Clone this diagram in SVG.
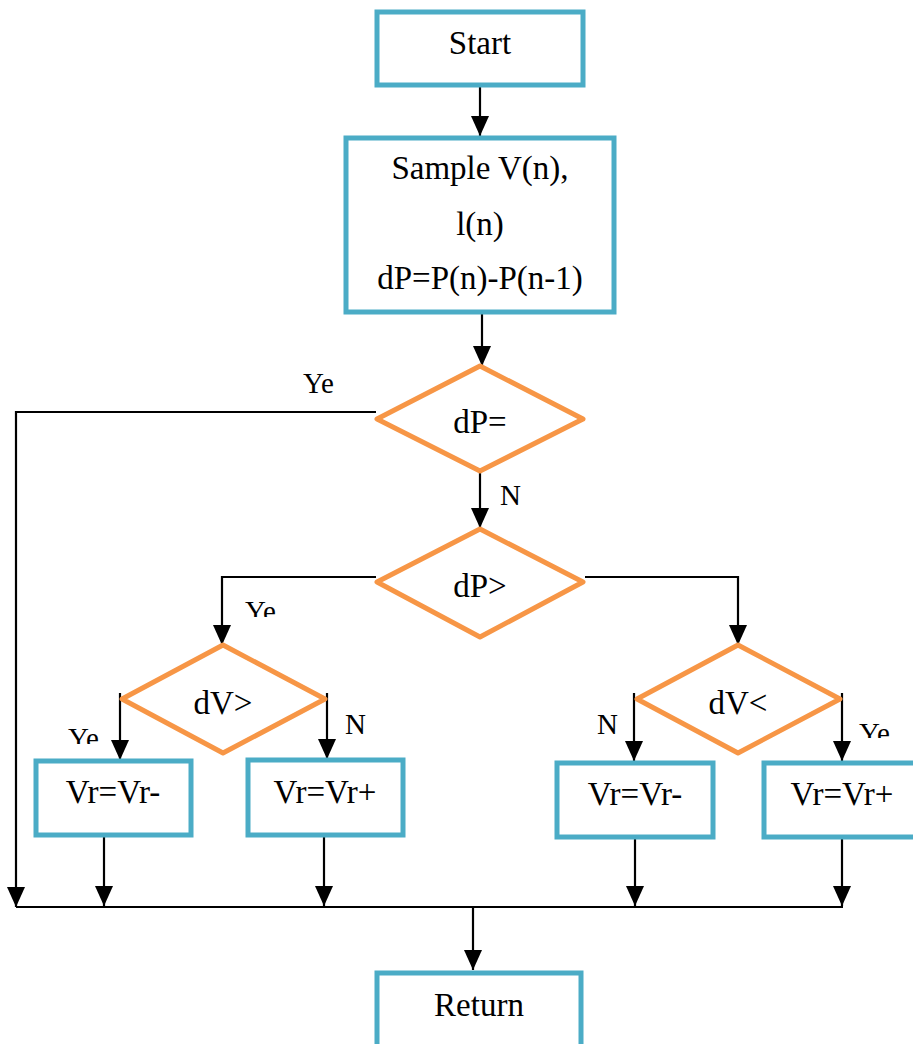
<svg xmlns="http://www.w3.org/2000/svg" width="913" height="1044" viewBox="0 0 913 1044">
<style>
.box{fill:#fff;stroke:#4BACC6;stroke-width:5}
.dia{fill:#fff;stroke:#F79646;stroke-width:5;stroke-linejoin:round}
.t{font-family:"Liberation Serif","Times New Roman",serif;font-size:33px;fill:#000;text-anchor:middle}
.l{font-family:"Liberation Serif","Times New Roman",serif;font-size:29px;fill:#000}
.c{fill:none;stroke:#000;stroke-width:2.2}
</style>
<defs>
<marker id="ad" markerUnits="userSpaceOnUse" markerWidth="22" markerHeight="18" refX="20" refY="9" orient="auto" viewBox="0 0 22 18">
<path d="M0,0 L20,9 L0,18 Z" fill="#000"/>
</marker>
<clipPath id="c1"><rect x="290" y="360" width="60" height="33"/></clipPath>
<clipPath id="c2"><rect x="235" y="590" width="60" height="27"/></clipPath>
<clipPath id="c3"><rect x="60" y="715" width="60" height="29"/></clipPath>
<clipPath id="c4"><rect x="850" y="710" width="60" height="28"/></clipPath>
</defs>

<g id="connectors">
<line class="c" x1="480" y1="86" x2="480" y2="136" marker-end="url(#ad)"/>
<line class="c" x1="482" y1="313" x2="482" y2="366" marker-end="url(#ad)"/>
<polyline class="c" points="376,412 16,412 16,907" marker-end="url(#ad)"/>
<line class="c" x1="480" y1="473" x2="480" y2="528" marker-end="url(#ad)"/>
<polyline class="c" points="376,577 222,577 222,645" marker-end="url(#ad)"/>
<polyline class="c" points="585,577 738,577 738,645" marker-end="url(#ad)"/>
<line class="c" x1="120" y1="693" x2="120" y2="760" marker-end="url(#ad)"/>
<line class="c" x1="327" y1="693" x2="327" y2="759" marker-end="url(#ad)"/>
<line class="c" x1="634" y1="693" x2="634" y2="761" marker-end="url(#ad)"/>
<line class="c" x1="842" y1="693" x2="842" y2="761" marker-end="url(#ad)"/>
<line class="c" x1="104" y1="837" x2="104" y2="906" marker-end="url(#ad)"/>
<line class="c" x1="324" y1="837" x2="324" y2="906" marker-end="url(#ad)"/>
<line class="c" x1="635" y1="839" x2="635" y2="906" marker-end="url(#ad)"/>
<line class="c" x1="842" y1="839" x2="842" y2="906" marker-end="url(#ad)"/>
<line class="c" x1="16" y1="907" x2="843" y2="907"/>
<line class="c" x1="473" y1="907" x2="473" y2="970" marker-end="url(#ad)"/>
</g>

<g id="start"><rect class="box" x="377" y="12" width="206" height="73"/><text class="t" x="480" y="54">Start</text></g>
<g id="sample"><rect class="box" x="346" y="138" width="268" height="174"/>
<text class="t" x="480" y="179">Sample V(n),</text>
<text class="t" x="480" y="235">l(n)</text>
<text class="t" x="480" y="289">dP=P(n)-P(n-1)</text></g>

<g id="d1"><polygon class="dia" points="480,366 583,419 480,471 377,419"/><text class="t" x="480" y="433">dP=</text></g>
<g id="d2"><polygon class="dia" points="480,529 583,582 480,637 377,582"/><text class="t" x="480" y="597">dP&gt;</text></g>
<g id="d3"><polygon class="dia" points="223,645 325,699 223,753 122,699"/><text class="t" x="223" y="714">dV&gt;</text></g>
<g id="d4"><polygon class="dia" points="738,645 840,699 738,753 637,699"/><text class="t" x="738" y="714">dV&lt;</text></g>

<g id="b1"><rect class="box" x="36" y="761" width="155" height="74"/><text class="t" x="113" y="803">Vr=Vr-</text></g>
<g id="b2"><rect class="box" x="248" y="760" width="155" height="75"/><text class="t" x="325" y="803">Vr=Vr+</text></g>
<g id="b3"><rect class="box" x="557" y="763" width="156" height="74"/><text class="t" x="635" y="805">Vr=Vr-</text></g>
<g id="b4"><rect class="box" x="764" y="763" width="156" height="74"/><text class="t" x="842" y="805">Vr=Vr+</text></g>
<g id="ret"><rect class="box" x="377" y="973" width="204" height="80"/><text class="t" x="479" y="1016">Return</text></g>

<g id="labels">
<text class="l" x="303" y="393" clip-path="url(#c1)">Ye</text>
<text class="l" x="500" y="505">N</text>
<text class="l" x="245" y="621" clip-path="url(#c2)">Ye</text>
<text class="l" x="68" y="748" clip-path="url(#c3)">Ye</text>
<text class="l" x="345" y="734">N</text>
<text class="l" x="597" y="734">N</text>
<text class="l" x="859" y="743" clip-path="url(#c4)">Ye</text>
</g>
</svg>
